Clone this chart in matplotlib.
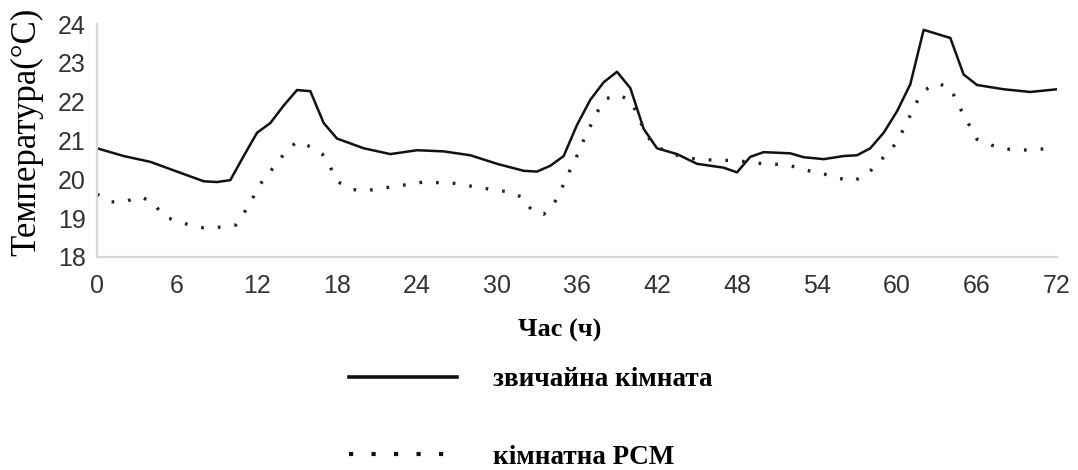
import matplotlib
matplotlib.use("Agg")
import matplotlib.pyplot as plt
from matplotlib.lines import Line2D

# години та температура, звичайна кімната
hours_std = [0, 2, 4, 6, 8, 9, 10, 11, 12, 13, 14, 15, 16, 17, 18, 20, 22, 24, 26, 28,
             30, 32, 33, 34, 35, 36, 37, 38, 39, 40, 41, 42, 43.5, 45, 47, 48, 49, 50,
             52, 53, 54.5, 56, 57, 58, 59, 60, 61, 62, 64, 65, 66, 68, 70, 72]
temp_std = [20.8, 20.6, 20.45, 20.2, 19.95, 19.93, 19.98, 20.6, 21.2, 21.45, 21.9, 22.3,
            22.27, 21.45, 21.05, 20.8, 20.65, 20.75, 20.72, 20.62, 20.4, 20.22, 20.2,
            20.35, 20.6, 21.4, 22.05, 22.5, 22.77, 22.35, 21.3, 20.8, 20.65, 20.4, 20.3,
            20.18, 20.58, 20.7, 20.67, 20.57, 20.52, 20.6, 20.62, 20.8, 21.2, 21.75,
            22.45, 23.85, 23.64, 22.7, 22.43, 22.32, 22.25, 22.32]

# кімната з PCM
hours_pcm = [0, 1, 2, 3.3, 4.2, 5, 6, 7, 8, 9.3, 10.4, 11, 11.6, 12.1, 12.7, 13.5, 14.1,
             15, 16, 16.9, 17.5, 18.1, 19, 20, 22, 24.5, 26.7, 29, 31, 32, 32.6, 33.5,
             34.2, 34.7, 35.2, 35.7, 36.2, 36.6, 37.1, 37.6, 38.2, 39.2, 40.1, 40.7,
             41.3, 41.9, 43.5, 44.5, 46, 48, 50, 51.5, 52.5, 53.5, 54.6, 55.6, 56.7,
             57.7, 58.5, 59.3, 60, 60.5, 61, 61.5, 62.1, 63, 64, 64.5, 65, 65.5, 66,
             67.1, 68.2, 69.4, 70.5, 72]
temp_pcm = [19.62, 19.42, 19.42, 19.55, 19.4, 19.05, 18.92, 18.82, 18.75, 18.77, 18.82,
            19.12, 19.46, 19.8, 20.1, 20.4, 20.7, 20.97, 20.84, 20.65, 20.31, 19.93,
            19.75, 19.7, 19.8, 19.93, 19.9, 19.77, 19.67, 19.52, 19.2, 19.1, 19.33,
            19.65, 20.03, 20.4, 20.75, 21.1, 21.44, 21.78, 22.08, 22.17, 22.0, 21.52,
            21.1, 20.84, 20.62, 20.54, 20.5, 20.48, 20.4, 20.38, 20.31, 20.21, 20.13,
            20.03, 19.96, 20.1, 20.4, 20.67, 20.96, 21.3, 21.65, 22.0, 22.3, 22.48,
            22.35, 22.0, 21.65, 21.35, 21.03, 20.88, 20.78, 20.75, 20.78, 20.78]

xticks = list(range(0, 73, 6))
yticks = list(range(18, 25))

fig = plt.figure(figsize=(10.78, 4.70), dpi=100)
ax = fig.add_axes([0.09, 0.4532, 0.8905, 0.4957])

ax.plot(hours_std, temp_std, color="#111111", linewidth=1.8)
ax.plot(hours_pcm, temp_pcm, color="#222222", linewidth=2.4, linestyle=(0, (0.8, 4.2)))

ax.set_xlim(0, 72)
ax.set_ylim(18, 24)
ax.set_xticks(xticks)
ax.set_yticks(yticks)
ax.tick_params(length=0, labelsize=18, labelcolor="#333333")
ax.tick_params(axis="x", pad=12)
ax.tick_params(axis="y", pad=8)
for lab in ax.get_xticklabels() + ax.get_yticklabels():
    lab.set_family("Liberation Sans")

for s in ["top", "right"]:
    ax.spines[s].set_visible(False)
for s in ["left", "bottom"]:
    ax.spines[s].set_color("#d8d8d8")
    ax.spines[s].set_linewidth(1.6)

ax.set_ylabel("Температура(°C)", family="Liberation Serif", fontsize=25)
ax.yaxis.set_label_coords(-0.056, 0.536)

fig.text(560 / 1078, 1 - 330 / 470, "Час (ч)", family="Liberation Serif", fontweight="bold",
         fontsize=19, ha="center", va="center")

handles = [
    Line2D([], [], color="#111111", linewidth=2.6),
    Line2D([], [], color="#111111", linewidth=3, linestyle=(0, (1, 4.4))),
]
labels = ["звичайна кімната", "кімнатна PCM"]
fig.legend(handles, labels, loc="upper left", bbox_to_anchor=(0.3137, 0.242),
           frameon=False, prop={"family": "Liberation Serif", "weight": "bold", "size": 19.5},
           handlelength=4.0, handletextpad=1.3, labelspacing=1.95, borderaxespad=0)

plt.savefig("out.png", dpi=100)
